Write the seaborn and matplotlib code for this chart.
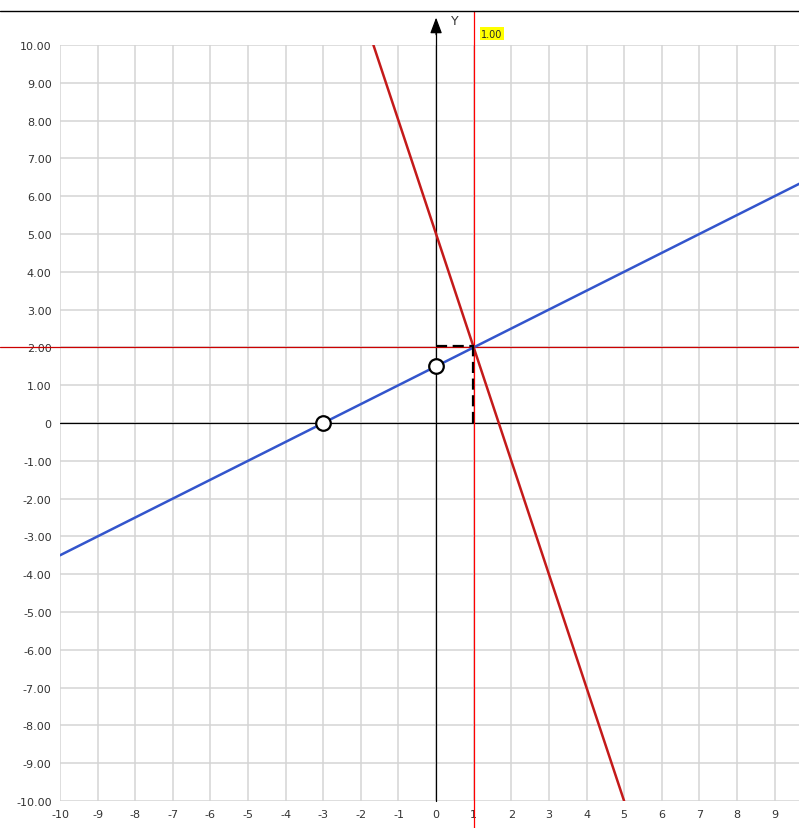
import numpy as np
import pandas as pd
import seaborn as sns
import matplotlib.pyplot as plt
from matplotlib.lines import Line2D

# line end points
blue_x = [-10, 10]
blue_y = [-3.5, 6.5]
red_x = [-5 / 3, 5]
red_y = [10, -10]

# marked points
pts_x = [-3, 0]
pts_y = [0, 1.5]

# intersection
ix, iy = 1, 2

x_ticks = list(range(-10, 10))
y_ticks = list(range(-10, 11))
y_labels = ['0' if v == 0 else f'{v:.2f}' for v in y_ticks]

sns.set_theme(style='white')
plt.rcParams['font.family'] = ['DejaVu Sans']
plt.rcParams['axes.unicode_minus'] = False

fig = plt.figure(figsize=(7.99, 8.29), dpi=100)
W, H = 799, 829
ax = fig.add_axes([60 / W, (H - 802) / H, 1 - 60 / W, (802 - 46) / H])
ax.set_xlim(-10, 9.65)
ax.set_ylim(-10, 10)

for s in ax.spines.values():
    s.set_visible(False)

ax.set_xticks(x_ticks)
ax.set_yticks(y_ticks)
ax.set_yticklabels(y_labels)
ax.tick_params(length=0, labelsize=8, colors='#333333', pad=6)
ax.grid(True, color='#d4d4d4', lw=1.1)
ax.set_axisbelow(True)

# axes lines
ax.axhline(0, color='black', lw=0.9, zorder=2)
ax.plot([0, 0], [-10, 10.5], color='black', lw=0.9, zorder=2, clip_on=False)
ax.annotate('', xy=(0, 10.8), xytext=(0, 10.2), annotation_clip=False,
            arrowprops=dict(arrowstyle='-|>,head_length=0.8,head_width=0.3', color='black',
                            lw=0.9, mutation_scale=12))
ax.text(0.5, 10.65, 'Y', fontsize=9, color='#333333', ha='center', va='center', clip_on=False)

lines = pd.DataFrame({'x': blue_x + red_x, 'y': blue_y + red_y,
                      'f': ['blue'] * 2 + ['red'] * 2})
sns.lineplot(data=lines, x='x', y='y', hue='f', palette={'blue': '#3355cc', 'red': '#c41a1a'},
             lw=1.8, legend=False, ax=ax, zorder=4, estimator=None, sort=False)

# crosshair through intersection
ax.add_line(Line2D([ix, ix], [-10.72, 10.9], color='red', lw=0.9, clip_on=False, zorder=3))
ax.add_line(Line2D([-11.6, 9.65], [iy, iy], color='#cc0000', lw=0.9, clip_on=False, zorder=3))
ax.text(ix + 0.2, 10.3, '1.00', fontsize=7, ha='left', va='center',
        bbox=dict(boxstyle='square,pad=0.15', fc='yellow', ec='none'), clip_on=False)

# dashed guides
ax.plot([0, ix], [iy + 0.05, iy + 0.05], color='black', lw=1.6, ls=(0, (5, 2.5)), zorder=5)
ax.plot([ix - 0.03, ix - 0.03], [0, iy], color='black', lw=1.6, ls=(0, (5, 2.5)), zorder=5)

sns.scatterplot(x=pts_x, y=pts_y, s=110, color='white', edgecolor='black', linewidth=1.6,
                ax=ax, zorder=6)

fig.add_artist(Line2D([0, 1], [1 - 12 / H, 1 - 12 / H], color='black', lw=1))

ax.set_xlabel('')
ax.set_ylabel('')
fig.savefig('out.png', dpi=100)
